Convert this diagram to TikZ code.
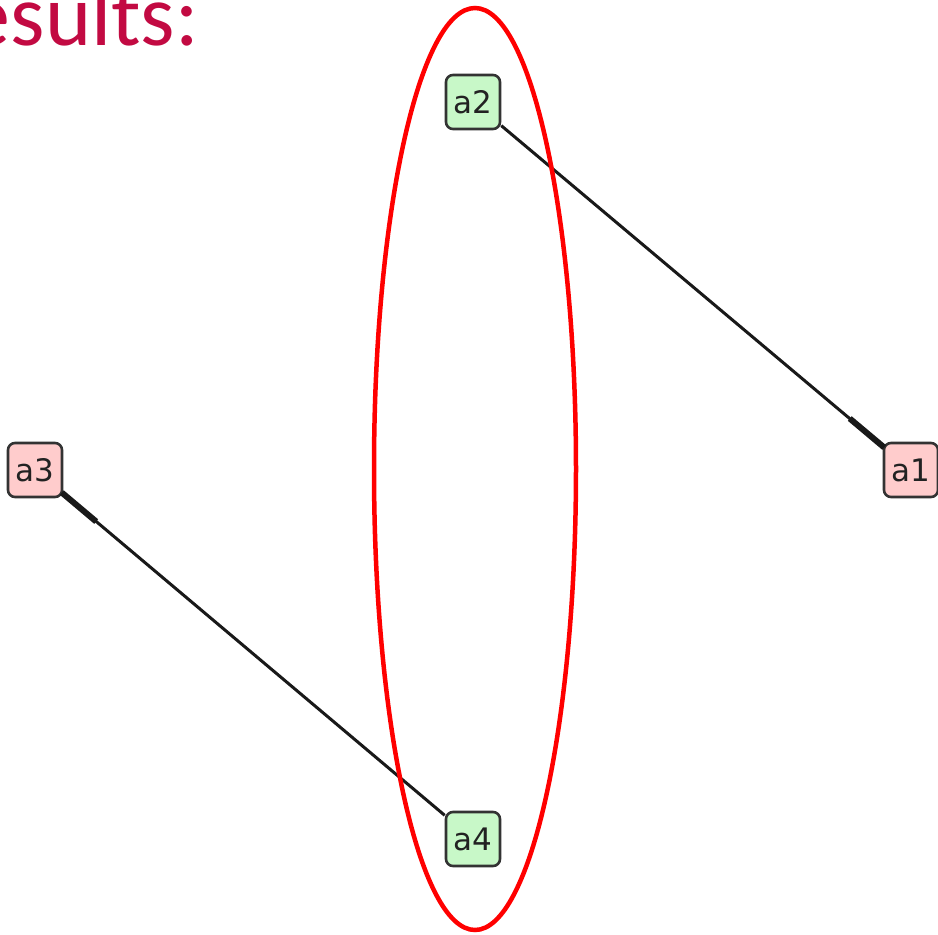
\documentclass[tikz,border=0pt]{standalone}
\usepackage{fontspec}
\usetikzlibrary{calc}
\newfontfamily\labelfont{DejaVu Sans}
\newfontfamily\titlefont{Carlito}
\definecolor{titlered}{HTML}{C20A42}
\definecolor{greenfill}{HTML}{C8F8C8}
\definecolor{pinkfill}{HTML}{FFCCCC}
\definecolor{boxedge}{HTML}{333333}
\definecolor{labelink}{HTML}{222222}
\tikzset{
  vertex/.style={draw=boxedge, line width=2.6pt, rounded corners=7pt,
    minimum width=54pt, minimum height=54pt, inner sep=0pt, text=labelink,
    font=\labelfont\fontsize{31}{31}\selectfont},
  greenv/.style={vertex, fill=greenfill},
  pinkv/.style={vertex, fill=pinkfill},
  edge/.style={draw=black!90, line width=3pt},
  edgeend/.style={draw=black!90, line width=6pt},
  group/.style={draw=red, line width=4.5pt},
}
\begin{document}
\begin{tikzpicture}[x=1pt,y=-1pt]
  \useasboundingbox (0,0) rectangle (938,935);
  \clip (0,0) rectangle (938,935);

  % heading, partly cut off at the left
  \node[anchor=base east, inner sep=0pt, text=titlered,
        font=\titlefont\fontsize{88}{88}\selectfont] (title) at (199,45) {Results:};

  % vertices
  \node[greenv] (a2) at (473,102) {a2};
  \node[pinkv]  (a3) at (35,470) {a3};
  \node[pinkv]  (a1) at (911,470) {a1};
  \node[greenv] (a4) at (473,839) {a4};

  % directed edges with a heavier stub at the target end
  \draw[edge] (a2) -- (a1);
  \draw[edgeend] ($(a1)!35pt!(a2)$) -- ($(a1)!80pt!(a2)$);
  \draw[edge] (a4) -- (a3);
  \draw[edgeend] ($(a3)!35pt!(a4)$) -- ($(a3)!80pt!(a4)$);

  % grouping of the green vertices
  \draw[group] (475,469) ellipse [x radius=101pt, y radius=461pt];
\end{tikzpicture}
\end{document}
